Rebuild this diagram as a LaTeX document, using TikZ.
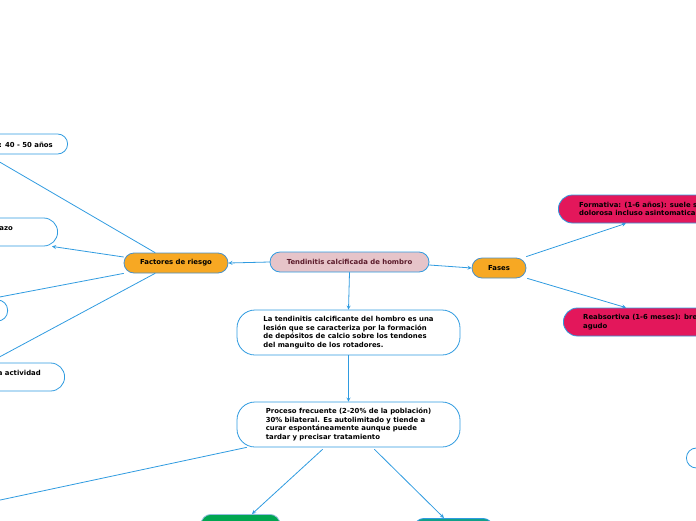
\documentclass[tikz,border=0pt]{standalone}
\usepackage{fontspec}
\setmainfont{DejaVu Sans}
\usetikzlibrary{positioning}
\definecolor{linea}{HTML}{2F9BE0}
\definecolor{borde}{HTML}{4A90C8}
\definecolor{naranja}{HTML}{F7A823}
\definecolor{rosa}{HTML}{E6C4C9}
\definecolor{granate}{HTML}{5A1A2A}
\definecolor{carmin}{HTML}{E3175B}
\definecolor{verde}{HTML}{00A651}
\definecolor{verdeazul}{HTML}{11A08A}
\begin{document}
\begin{tikzpicture}[x=1pt, y=-1pt, line join=round, line cap=round, >=stealth]
    \tikzset{caja/.style={draw=linea, line width=0.8pt, rounded corners=10pt, inner sep=0pt,
                 font=\fontsize{6.9}{8.6}\selectfont\bfseries, text=black},
             txt/.style={font=\fontsize{6.9}{8.6}\selectfont\bfseries, inner sep=0pt, align=left},
             flecha/.style={draw=linea, line width=0.8pt, ->}}
    \useasboundingbox (0,0) rectangle (696,520);
    \clip (0,0) rectangle (696,520);
    % centro
    \node[caja, fill=rosa, text=granate, minimum width=159pt, minimum height=20pt] (tema) at (349.5,262) {Tendinitis calcificada de hombro};
    \node[caja, fill=naranja, draw=borde, minimum width=104pt, minimum height=20pt] (factores) at (176,263) {Factores de riesgo};
    \node[caja, fill=naranja, draw=borde, minimum width=54pt, minimum height=20pt] (fases) at (499,268) {Fases};
    \node[caja, fill=white, rounded corners=18pt, minimum width=223pt, minimum height=45pt, align=left] (definicion) at (348.5,332.5)
        {La tendinitis calcificante del hombro es una\\lesión que se caracteriza por la formación\\de depósitos de calcio sobre los tendones\\del manguito de los rotadores.};
    \node[caja, fill=white, rounded corners=18pt, minimum width=223pt, minimum height=45pt, align=left] (proceso) at (348.5,424.5)
        {Proceso frecuente (2-20\% de la población)\\30\% bilateral. Es autolimitado y tiende a\\curar espontáneamente aunque puede\\tardar y precisar tratamiento};
    % fases
    \node[caja, fill=carmin, rounded corners=14pt, minimum width=200pt, minimum height=28pt, anchor=west] (formativa) at (558,209) {};
    \node[txt, anchor=west] (formativa-txt) at (579,209) {Formativa: (1-6 años): suele s\\dolorosa incluso asintomatica};
    \node[caja, fill=carmin, rounded corners=14pt, minimum width=200pt, minimum height=28pt, anchor=west] (reabsortiva) at (563,322) {};
    \node[txt, anchor=west] (reabsortiva-txt) at (583,322) {Reabsortiva (1-6 meses): bre\\agudo};
    % factores de riesgo
    \node[caja, fill=white, minimum width=120pt, minimum height=20pt, anchor=east] (edad) at (68,144) {};
    \node[txt, anchor=east] (edad-txt) at (53,144.5) {: 40 - 50 años};
    \node[caja, fill=white, rounded corners=14pt, minimum width=120pt, minimum height=28pt, anchor=east] (brazo) at (58,232) {};
    \node[txt, anchor=east] (brazo-txt) at (13,229) {azo};
    \node[caja, fill=white, minimum width=120pt, minimum height=21pt, anchor=east] (otro) at (8,310.5) {};
    \node[caja, fill=white, rounded corners=14pt, minimum width=120pt, minimum height=28pt, anchor=east] (actividad) at (65,377) {};
    \node[txt, anchor=east] (actividad-txt) at (41,373) {a actividad};
    % abajo
    \node[caja, fill=verde, draw=borde!60, minimum width=79pt, minimum height=28pt, anchor=north] (verde1) at (240.5,514) {};
    \node[caja, fill=verdeazul, minimum width=79pt, minimum height=28pt, anchor=north] (verde2) at (453.5,518) {};
    \node[caja, fill=white, minimum width=60pt, minimum height=20pt, anchor=west] (derecha) at (686,458) {};
    \coordinate (izq) at (-40,508.6);
    % conectores
    \draw[flecha] (tema.west) -- (factores.east);
    \draw[flecha] ([yshift=-3pt]tema.east) -- (fases.west);
    \draw[flecha] (tema.south) -- (definicion.north);
    \draw[flecha] (definicion.south) -- (proceso.north);
    \draw[flecha] ([xshift=-21pt]factores.north) -- ([xshift=-21pt]edad.south);
    \draw[flecha] ([yshift=6pt]factores.west) -- ([xshift=-6pt]brazo.south east);
    \draw[flecha] (factores.south west) -- ([xshift=-22pt]otro.north east);
    \draw[flecha] ([xshift=-21pt]factores.south) -- ([xshift=-76pt]actividad.north east);
    \draw[flecha] ([yshift=1pt]fases.north east) -- ([xshift=68pt]formativa.south west);
    \draw[flecha] ([xshift=1pt]fases.south east) -- ([xshift=63pt]reabsortiva.north west);
    \draw[flecha] ([xshift=-102pt]proceso.south) -- (izq);
    \draw[flecha] ([xshift=-26pt, yshift=-2pt]proceso.south) -- ([xshift=11.5pt]verde1.north);
    \draw[flecha] ([xshift=26pt, yshift=-2pt]proceso.south) -- ([xshift=-9.5pt]verde2.north);
\end{tikzpicture}
\end{document}
